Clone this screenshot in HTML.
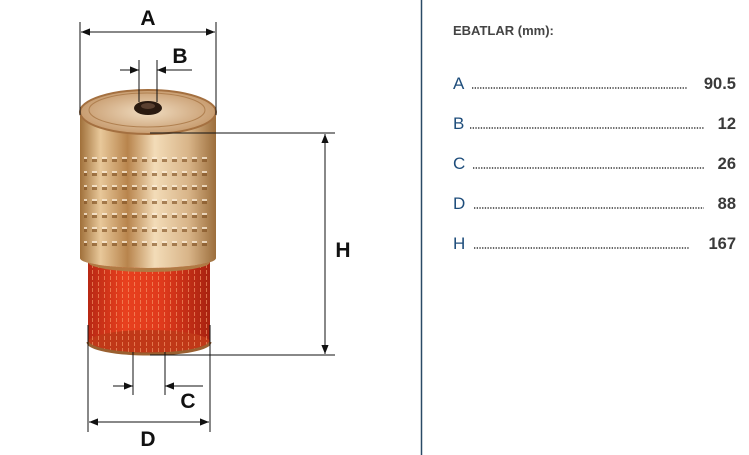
<!DOCTYPE html>
<html><head><meta charset="utf-8"><style>
html,body{margin:0;padding:0;background:#fff;}
body{width:749px;height:455px;overflow:hidden;position:relative;font-family:"Liberation Sans",sans-serif;}
</style></head><body>
<svg width="749" height="455" viewBox="0 0 749 455" xmlns="http://www.w3.org/2000/svg" style="position:absolute;left:0;top:0">
<defs>
<linearGradient id="gold" x1="0" x2="1" y1="0" y2="0">
<stop offset="0" stop-color="#a0703a"/><stop offset="0.15" stop-color="#e8c89a"/>
<stop offset="0.35" stop-color="#b8844c"/><stop offset="0.55" stop-color="#f3dcb8"/>
<stop offset="0.8" stop-color="#d8b488"/><stop offset="1" stop-color="#9c6e3c"/>
</linearGradient>
<linearGradient id="red" x1="0" x2="1" y1="0" y2="0">
<stop offset="0" stop-color="#b82814"/><stop offset="0.3" stop-color="#e8401e"/>
<stop offset="0.6" stop-color="#e03a1c"/><stop offset="1" stop-color="#a82210"/>
</linearGradient>
<radialGradient id="top" cx="0.5" cy="0.5" r="0.6">
<stop offset="0" stop-color="#f0dcc0"/><stop offset="1" stop-color="#c09060"/>
</radialGradient>
<pattern id="pleat" width="6" height="6" patternUnits="userSpaceOnUse">
<rect x="2" y="0" width="1" height="4" fill="#f8a070" opacity="0.6"/>
</pattern>
<pattern id="rib" width="10" height="14" patternUnits="userSpaceOnUse">
<rect x="2" y="5" width="5" height="3" fill="#7a4a1a" opacity="0.6"/>
<rect x="2" y="3" width="5" height="2" fill="#fff3e0" opacity="0.7"/>
</pattern>
<marker id="ar" viewBox="0 0 10 10" refX="10" refY="5" markerWidth="9" markerHeight="9" orient="auto-start-reverse" markerUnits="userSpaceOnUse">
<path d="M0,1 L10,5 L0,9 z" fill="#111"/>
</marker>
</defs>
<rect x="88" y="262" width="122" height="80" fill="url(#red)"/>
<rect x="88" y="262" width="122" height="80" fill="url(#pleat)"/>
<ellipse cx="149" cy="342" rx="61" ry="12" fill="#c03818"/>
<ellipse cx="149" cy="342" rx="61" ry="12" fill="url(#pleat)"/>
<path d="M88,342 A61,12 0 0 0 210,342" fill="none" stroke="#9a6030" stroke-width="3"/>
<rect x="80" y="110" width="136" height="148" fill="url(#gold)"/>
<rect x="84" y="150" width="128" height="100" fill="url(#rib)"/>
<path d="M80,258 A68,10 0 0 0 216,258 L210,262 A61,10 0 0 1 88,262 z" fill="#b07a44"/>
<path d="M80,250 L80,258 A68,10 0 0 0 216,258 L216,250" fill="url(#gold)"/>
<ellipse cx="148" cy="112" rx="68" ry="22" fill="url(#top)" stroke="#a47040" stroke-width="2"/>
<ellipse cx="147" cy="110" rx="58" ry="17" fill="none" stroke="#b08050" stroke-width="1"/>
<ellipse cx="148" cy="108" rx="14" ry="7" fill="#2a1a10"/>
<ellipse cx="148" cy="106" rx="7" ry="3" fill="#5a4030"/>
<g stroke="#111" stroke-width="1" fill="none">
<line x1="80" y1="22" x2="80" y2="115"/><line x1="216" y1="22" x2="216" y2="115"/>
<line x1="81" y1="32" x2="215" y2="32" marker-start="url(#ar)" marker-end="url(#ar)"/>
<line x1="139" y1="60" x2="139" y2="102"/><line x1="157" y1="60" x2="157" y2="102"/>
<line x1="120" y1="70" x2="139" y2="70" marker-end="url(#ar)"/>
<line x1="192" y1="70" x2="157" y2="70" marker-end="url(#ar)"/>
<line x1="150" y1="133" x2="335" y2="133"/><line x1="150" y1="355" x2="335" y2="355"/>
<line x1="325" y1="134" x2="325" y2="354" marker-start="url(#ar)" marker-end="url(#ar)"/>
<line x1="133" y1="352" x2="133" y2="395"/><line x1="165" y1="352" x2="165" y2="395"/>
<line x1="113" y1="386" x2="133" y2="386" marker-end="url(#ar)"/>
<line x1="203" y1="386" x2="165" y2="386" marker-end="url(#ar)"/>
<line x1="88" y1="325" x2="88" y2="432"/><line x1="210" y1="325" x2="210" y2="432"/>
<line x1="89" y1="422" x2="209" y2="422" marker-start="url(#ar)" marker-end="url(#ar)"/>
</g>
<g font-family="Liberation Sans, sans-serif" font-weight="bold" font-size="21" fill="#111" text-anchor="middle">
<text x="148" y="25">A</text>
<text x="180" y="63">B</text>
<text x="343" y="257">H</text>
<text x="188" y="408">C</text>
<text x="148" y="446">D</text>
</g>
<line x1="421.5" y1="0" x2="421.5" y2="455" stroke="#2a4a66" stroke-width="1.5"/>
<text x="453" y="35" font-family="Liberation Sans, sans-serif" font-weight="bold" font-size="13" fill="#444">EBATLAR (mm):</text>
<g font-family="Liberation Sans, sans-serif" font-size="17">
<g fill="#1e4d7b">
<text x="453" y="89">A</text><text x="453" y="129">B</text><text x="453" y="169">C</text><text x="453" y="209">D</text><text x="453" y="249">H</text>
</g>
<g fill="#3a3a3a" font-weight="bold" text-anchor="end" font-size="16.5">
<text x="736" y="89">90.5</text><text x="736" y="129">12</text><text x="736" y="169">26</text><text x="736" y="209">88</text><text x="736" y="249">167</text>
</g>
<g stroke="#333" stroke-width="1.6" stroke-dasharray="1.3,1.4">
<line x1="472" y1="88" x2="688" y2="88"/>
<line x1="470" y1="128" x2="704" y2="128"/>
<line x1="473" y1="168" x2="704" y2="168"/>
<line x1="474" y1="208" x2="704" y2="208"/>
<line x1="474" y1="248" x2="690" y2="248"/>
</g>
</g>
</svg>
</body></html>
